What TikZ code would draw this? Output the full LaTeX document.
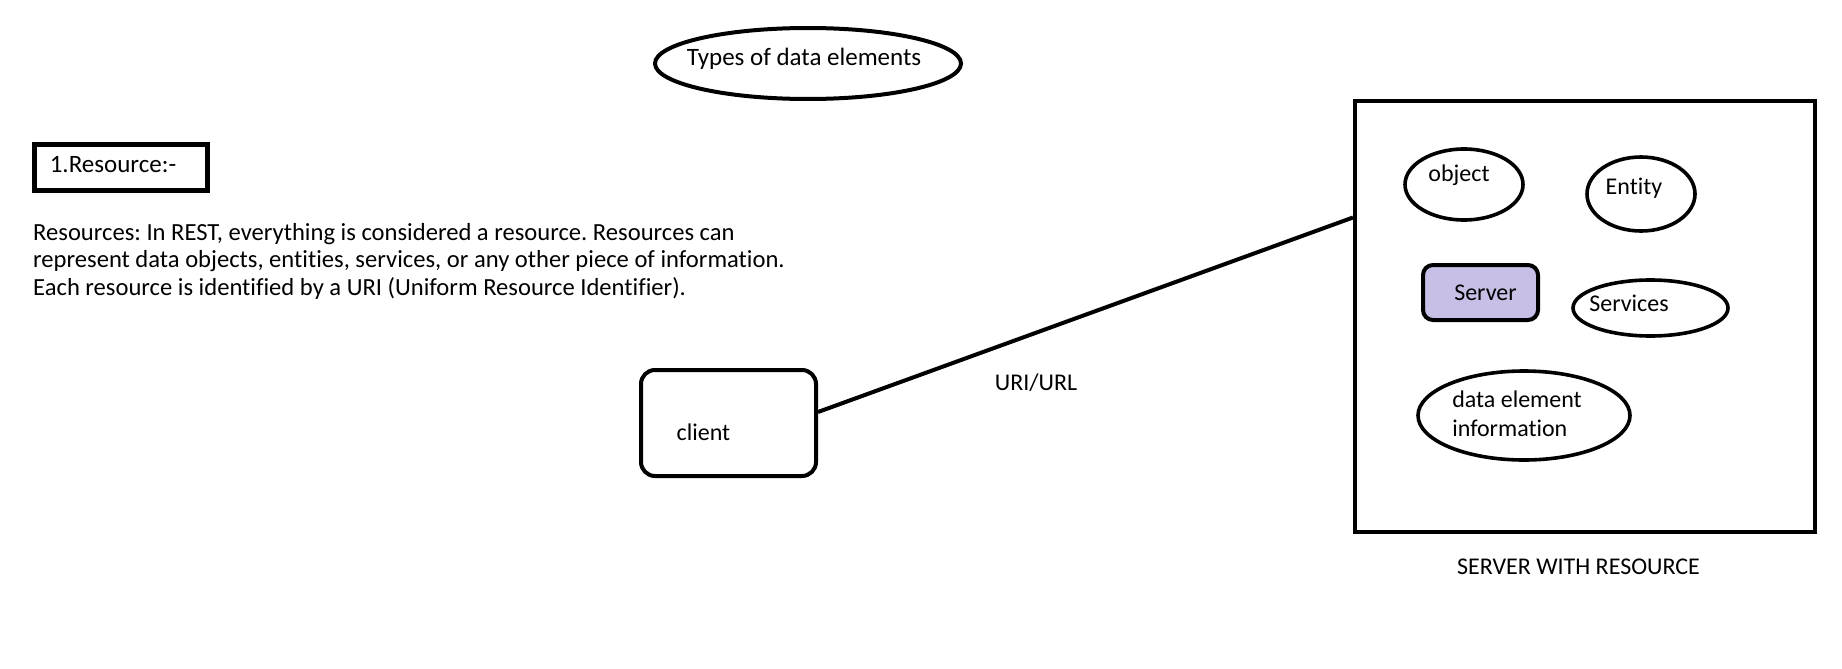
\documentclass[tikz,border=0pt]{standalone}
\usepackage{fontspec}
\setmainfont{Carlito}[Ligatures=NoCommon]
\usetikzlibrary{shapes.geometric}
\definecolor{srvfill}{RGB}{200,191,230}
\tikzset{
  oval/.style={draw, ellipse, line width=3.6pt, inner sep=0pt},
  plainbox/.style={draw, line width=4pt, inner sep=0pt},
  roundbox/.style={plainbox, rounded corners=14pt},
}
\frenchspacing
\begin{document}
\begin{tikzpicture}[x=1pt, y=-1pt, font=\fontsize{24}{29}\selectfont]
\useasboundingbox (0,0) rectangle (1842,669);
% heading
\node [oval, line width=4pt, minimum width=306, minimum height=71,
       label={[shift={(-4,-5)}, font=\fontsize{25}{29}\selectfont]center:Types of data elements}] (types) at (808,63.5) {};
\node [plainbox, line width=5pt, minimum width=173, minimum height=46,
       label={[shift={(-8,-2.5)}, font=\fontsize{25}{29}\selectfont]center:1.Resource:-}] (res) at (121,167.5) {};
\node [anchor=north west, align=left, inner sep=0pt, font=\fontsize{24.6}{27.5}\selectfont] (desc) at (33,223)
  {Resources: In REST, everything is considered a resource. Resources can\\
   represent data objects, entities, services, or any other piece of information.\\
   Each resource is identified by a URI (Uniform Resource Identifier).};
% client side
\node [roundbox, minimum width=175, minimum height=106,
       label={[shift={(-25,9)}]center:client}] (client) at (728.5,423) {};
% server with resource
\node [plainbox, minimum width=460, minimum height=431] (srvbox) at (1585,316.5) {};
\node [oval, minimum width=118, minimum height=71,
       label={[shift={(-5,-9.5)}]center:object}] (obj) at (1464,184.5) {};
\node [oval, minimum width=108, minimum height=74,
       label={[shift={(-7,-6)}]center:Entity}] (ent) at (1641,194) {};
\node [roundbox, fill=srvfill, rounded corners=10pt, minimum width=115, minimum height=55,
       label={[shift={(5,0)}]center:Server}] (srv) at (1480.5,292.5) {};
\node [oval, minimum width=155, minimum height=56,
       label={[shift={(-21.5,-5)}]center:Services}] (svc) at (1650.5,308) {};
\node [oval, minimum width=212, minimum height=89,
       label={[shift={(-7,-1.5)}, align=left]center:data element\\information}] (info) at (1524,415.5) {};
\node (srvcap) at (1578.5,567) {SERVER WITH RESOURCE};
% connection
\draw [line width=4pt] ([yshift=11pt]client.east) -- ([yshift=99pt]srvbox.west);
\node (uri) at (1036,383) {URI/URL};
\end{tikzpicture}
\end{document}
